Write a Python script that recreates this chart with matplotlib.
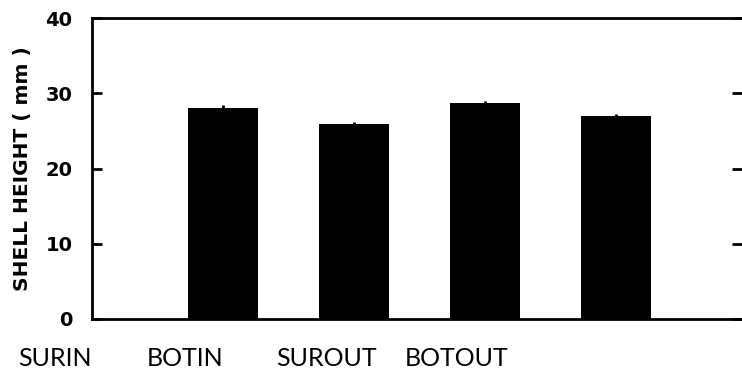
import matplotlib
matplotlib.use("Agg")
import matplotlib.pyplot as plt

categories = ["SURIN", "BOTIN", "SUROUT", "BOTOUT"]
values = [28.0, 25.9, 28.7, 27.0]
errors = [0.4, 0.3, 0.3, 0.3]
yticks = [0, 10, 20, 30, 40]

W, H = 742, 371
fig = plt.figure(figsize=(W / 100, H / 100), dpi=100)
ax = fig.add_axes([92 / W, (H - 319) / H, (W - 92) / W, (319 - 18) / H])

pos = [1, 2, 3, 4]
ax.bar(pos, values, width=0.53, color="black", yerr=errors,
       error_kw=dict(ecolor="black", capsize=0, elinewidth=2))

ax.set_xlim(0, 4.96)
ax.set_ylim(0, 40)
ax.set_yticks(yticks)
ax.set_yticklabels([str(t) for t in yticks], fontsize=14, fontweight="bold",
                   family="DejaVu Sans")
ax.set_xticks([])

for s in ["left", "top", "bottom"]:
    ax.spines[s].set_linewidth(2)
ax.spines["right"].set_visible(False)
ax.tick_params(axis="y", direction="in", length=7, width=2, pad=14,
               right=True)

ax.set_ylabel("SHELL HEIGHT ( mm )", fontsize=14.5, fontweight="bold",
              labelpad=10, family="DejaVu Sans")

# category labels, offset from bars as in the reference
for i, lab in enumerate(categories):
    fig.text((18 + i * 129) / W, (H - 358) / H, lab, ha="left", va="center",
             fontsize=18, family="Lato", fontweight="normal", color="black")

fig.savefig("out.png", dpi=100)
